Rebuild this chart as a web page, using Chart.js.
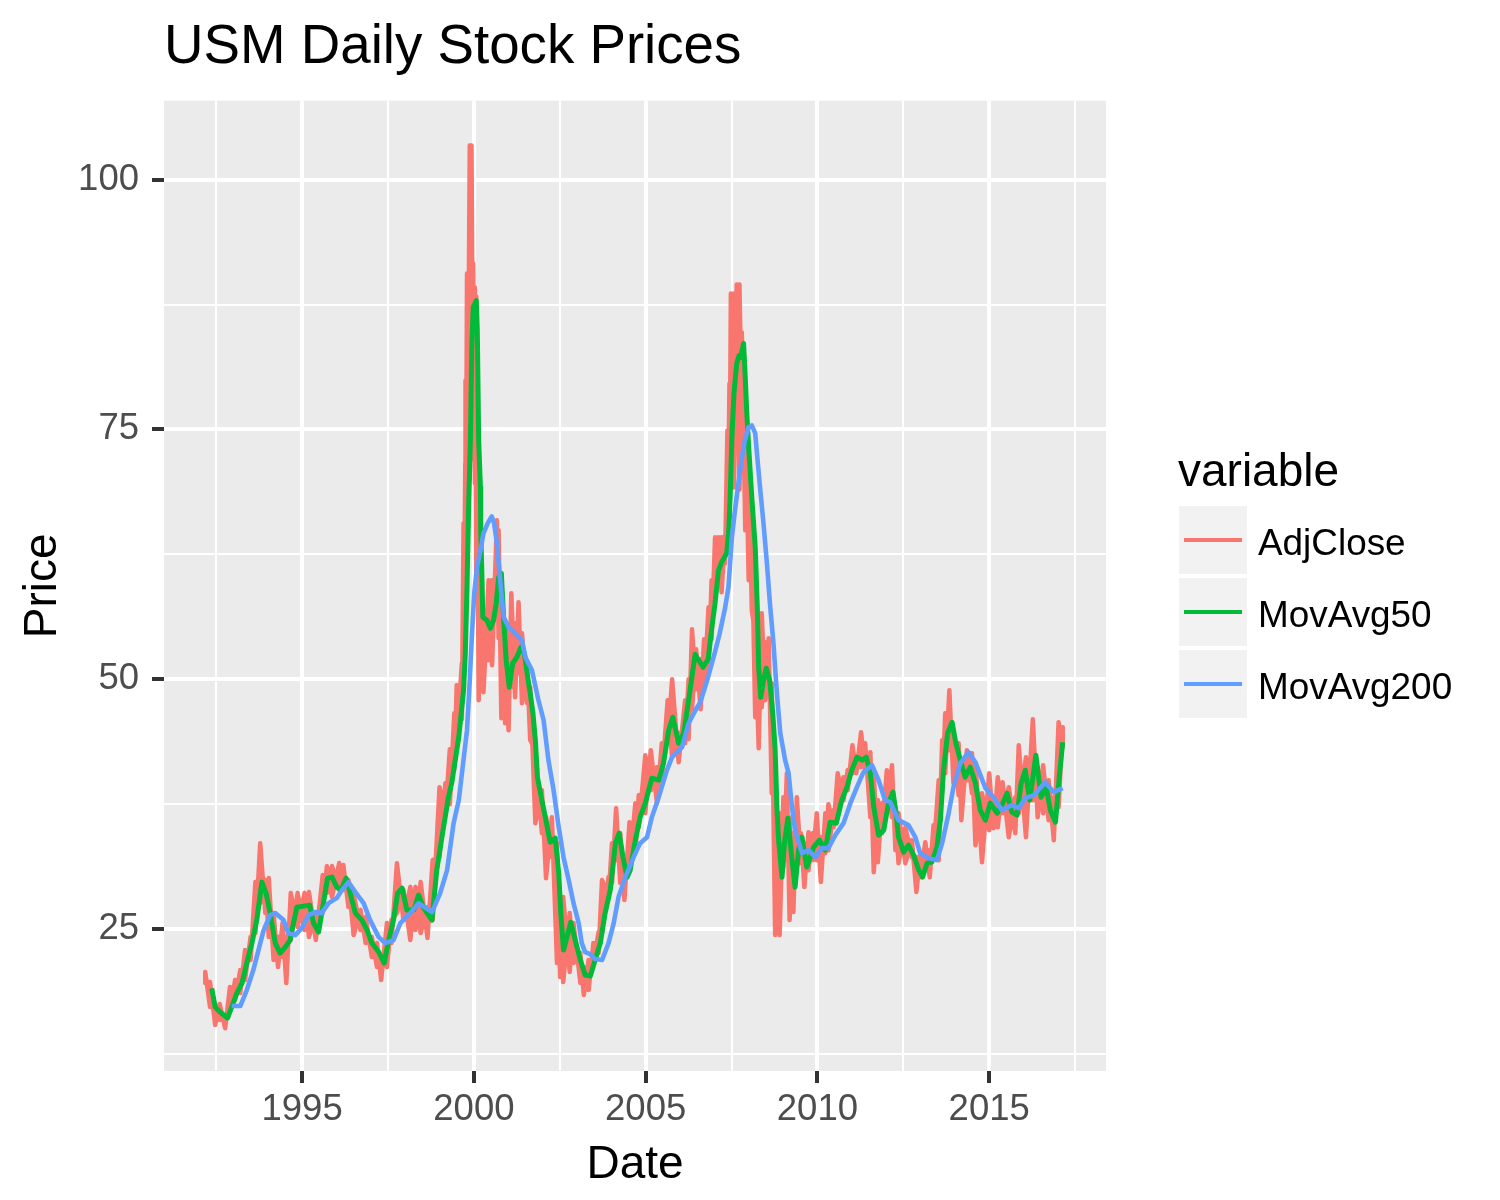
<!DOCTYPE html>
<html>
<head>
<meta charset="utf-8">
<title>USM Daily Stock Prices</title>
<script src="https://cdn.jsdelivr.net/npm/chart.js@4"></script>
<style>
body{margin:0;background:#fff;}
canvas{display:block;}
</style>
</head>
<body>
<canvas id="chart" width="1500" height="1200"></canvas>
<script>
const seriesNames = ["AdjClose","MovAvg50","MovAvg200"];
const seriesColors = ["#F8766D","#00BA38","#619CFF"];

const xTicks = [1992.5,1995,1997.5,2000,2002.5,2005,2007.5,2010,2012.5,2015,2017.5];
const yTicks = [12.5,25,37.5,50,62.5,75,87.5,100];

// AdjClose is read as a daily band: top and bottom of the band at each date
const adjDates = [1992.18,1992.32,1992.47,1992.6,1992.76,1992.9,1993.05,1993.2,1993.34,1993.5,1993.64,1993.78,1993.93,1994.03,1994.17,1994.3,1994.43,1994.54,1994.67,1994.87,1995.07,1995.2,1995.4,1995.6,1995.72,1995.87,1996.08,1996.2,1996.35,1996.5,1996.7,1996.85,1997.03,1997.18,1997.3,1997.47,1997.6,1997.76,1997.95,1998.15,1998.3,1998.45,1998.65,1998.8,1999,1999.17,1999.3,1999.43,1999.5,1999.65,1999.7,1999.75,1999.77,1999.8,1999.88,1999.93,1999.98,2000.03,2000.07,2000.14,2000.23,2000.28,2000.43,2000.53,2000.67,2000.72,2000.8,2000.91,2001.01,2001.09,2001.2,2001.3,2001.4,2001.55,2001.64,2001.79,2001.98,2002.1,2002.27,2002.42,2002.51,2002.6,2002.79,2002.9,2003.1,2003.2,2003.34,2003.48,2003.63,2003.73,2003.92,2004.02,2004.14,2004.26,2004.38,2004.53,2004.7,2004.8,2004.99,2005.15,2005.33,2005.47,2005.64,2005.77,2005.96,2006.15,2006.25,2006.35,2006.47,2006.6,2006.7,2006.83,2006.92,2007.02,2007.12,2007.21,2007.31,2007.38,2007.44,2007.48,2007.57,2007.65,2007.73,2007.8,2007.9,2008,2008.09,2008.19,2008.29,2008.38,2008.48,2008.58,2008.67,2008.77,2008.9,2009.01,2009.11,2009.19,2009.3,2009.4,2009.52,2009.62,2009.74,2009.86,2009.98,2010.1,2010.23,2010.32,2010.47,2010.59,2010.76,2010.88,2011.02,2011.13,2011.27,2011.39,2011.54,2011.64,2011.76,2011.88,2012.02,2012.17,2012.27,2012.36,2012.56,2012.75,2012.88,2013,2013.14,2013.27,2013.38,2013.53,2013.63,2013.72,2013.84,2013.96,2014.11,2014.19,2014.35,2014.5,2014.6,2014.79,2015,2015.13,2015.25,2015.39,2015.57,2015.76,2015.86,2016.07,2016.27,2016.41,2016.57,2016.73,2016.88,2017.02,2017.14];
const adjHigh = [20.7,19.7,17.2,17.5,16.2,19.2,19.9,20.9,22.9,24.2,29.7,33.6,29.9,30.1,26.6,24.2,25.6,24.2,28.6,28.6,28.6,28.7,26.6,30.4,31.3,31.3,31.6,31.4,29.9,28.6,26.9,26.2,24.2,23.6,21.9,25.6,25.9,31.6,28.9,29.2,29.2,29.7,27.2,31.9,39.2,39.6,43,46.6,49.4,51.6,65.6,71.6,79.9,90.6,103.4,103.4,91.6,89.2,88.3,60.6,57.9,54.9,59.9,59.9,65.9,64.9,57.9,55.2,55.2,58.6,55.6,57.7,54.6,51.2,49.2,42.9,38.9,36.2,36.2,33.6,27.9,28.2,26.6,25.6,22.6,21.2,21.9,23.6,24.7,29.9,30.2,33.6,37.1,34.6,31.6,35.7,37.6,38.4,42.4,42.9,41.2,43.6,47.9,50,44.6,47.9,50,55,53,52,54,57.2,59.9,64.2,64.2,64.2,64.4,74.9,79.6,88.6,88.6,89.5,89.5,84.7,76.9,72.9,64.2,54.6,54.6,56.6,53.7,54.1,49.6,39.6,36.6,38.2,40.6,36.2,34.6,38.2,34.6,33.6,34.7,34.6,36.6,34.2,36.6,37.5,36.9,40.6,40.2,40.9,43.4,42.2,44.7,43.6,42.7,40.6,37.9,37.6,40.9,41.4,37.2,36.6,35.2,33.9,32.2,32.6,33.7,32.9,35.4,39.9,43.9,46.6,48.9,44.9,43.6,41.2,42.9,42.6,41.6,38.6,40.6,38.2,40.2,39.7,39.2,38.2,43.4,42.2,46,41.2,41.4,39.9,38.2,45.7,45.2];
const adjLow = [19.6,17.2,15.4,15.9,15.07,16.9,17.9,18.6,19.9,21.9,24.6,27.6,26.6,24.2,21.9,21.2,22.2,19.6,23.9,25.2,24.9,24.2,23.9,26.6,28.6,28.2,28.9,28.9,27.2,24.4,24.9,23.6,22.2,21.2,19.9,21.2,23.6,26.6,25.9,23.9,24.9,24.6,24.1,25.9,32.2,36.5,37.5,41,43.9,46,49.9,56,60,62,70,72,75,69.6,60.6,47.9,51.2,48.7,51.9,51.4,56.6,54.1,46.1,45.6,44.9,49.2,48.2,50.6,47.6,47.6,43.9,35.6,34.6,30.1,32.2,21.6,20.2,19.7,20.7,21.6,19.6,18.4,18.9,21.6,22.6,24.6,28.2,29.6,31.9,29.6,27.9,31.2,32.6,35.2,36.6,38.9,37.6,39.9,43.6,42.2,41.7,43.6,44,47,49,47,49,51,54,58.9,61.6,58.7,61.6,63,66,69.2,69.2,81,69,76.6,64.9,59.9,56.9,46.2,43.1,47.2,47.9,49.6,38.6,24.4,24.4,31.2,31.9,25.9,26.7,31.2,31.6,29.2,30.9,31.9,31.9,29.7,32.6,32.9,35.2,36.6,37.9,38.9,40.6,40.6,41.2,40.9,36.2,30.7,31.7,34.6,36.9,36.2,32.9,31.6,31.6,32.2,28.7,30.2,30.9,30.2,32.6,31.9,38.6,40.6,42.9,39.6,38.4,35.9,39.9,38.6,33.4,31.7,34.9,35.1,35.2,36.6,34.2,34.6,36.6,34.2,37.9,36.2,36.6,35.9,33.9,37.2,43.2];

const ma50Dates = [1992.37,1992.47,1992.61,1992.83,1992.95,1993.1,1993.25,1993.39,1993.54,1993.68,1993.83,1993.95,1994.07,1994.22,1994.36,1994.51,1994.65,1994.75,1994.85,1995.04,1995.22,1995.33,1995.48,1995.62,1995.74,1995.87,1996.01,1996.13,1996.28,1996.4,1996.55,1996.74,1996.89,1997.03,1997.23,1997.39,1997.52,1997.66,1997.78,1997.91,1998.05,1998.25,1998.39,1998.54,1998.78,1998.92,1999.07,1999.26,1999.36,1999.56,1999.7,1999.75,1999.8,1999.85,1999.9,1999.94,1999.98,2000.07,2000.1,2000.14,2000.19,2000.2,2000.23,2000.26,2000.38,2000.48,2000.57,2000.65,2000.72,2000.8,2000.87,2000.94,2001.03,2001.13,2001.25,2001.37,2001.47,2001.55,2001.64,2001.72,2001.79,2001.85,2001.98,2002.08,2002.22,2002.37,2002.47,2002.53,2002.61,2002.71,2002.82,2002.95,2003.1,2003.24,2003.39,2003.53,2003.68,2003.82,2003.97,2004.12,2004.23,2004.34,2004.46,2004.55,2004.7,2004.84,2004.99,2005.18,2005.38,2005.52,2005.67,2005.79,2005.96,2006.11,2006.25,2006.44,2006.67,2006.82,2006.92,2007.02,2007.12,2007.21,2007.36,2007.42,2007.46,2007.51,2007.57,2007.65,2007.72,2007.77,2007.85,2007.89,2007.94,2008.01,2008.09,2008.19,2008.25,2008.29,2008.35,2008.43,2008.51,2008.61,2008.7,2008.77,2008.82,2008.87,2008.97,2009.04,2009.14,2009.24,2009.35,2009.45,2009.55,2009.69,2009.89,2010.06,2010.23,2010.37,2010.55,2010.71,2010.86,2011,2011.15,2011.3,2011.42,2011.54,2011.64,2011.78,2011.93,2012.07,2012.2,2012.29,2012.36,2012.51,2012.65,2012.8,2012.95,2013.06,2013.19,2013.33,2013.48,2013.58,2013.67,2013.79,2013.92,2014.03,2014.16,2014.3,2014.45,2014.6,2014.74,2014.89,2015.03,2015.23,2015.37,2015.52,2015.66,2015.81,2015.93,2016.05,2016.18,2016.36,2016.51,2016.66,2016.78,2016.93,2017.05,2017.14];
const ma50Values = [19.07,17.2,16.7,16.1,17.2,18.6,19.6,21.6,23.6,25.9,29.7,28.6,26.6,23.6,22.6,23.2,23.9,25.6,27.2,27.3,27.4,25.6,24.7,27.6,30.1,30.2,29.2,28.9,30.1,28.6,26.6,25.9,24.9,23.6,22.7,21.6,23.9,25.9,28.6,29.1,26.9,26.9,28.4,27.1,25.9,30.9,34.2,38.2,39.7,44.2,48.9,52.6,59.2,67.6,74.2,83.2,87.2,87.9,84.9,73.9,69.2,64.9,60.9,56.2,55.9,55.1,55.9,57.6,60.2,60.6,55.9,51.9,49.2,51.6,52.2,53.2,52.6,50.6,48.6,46.6,43.9,40.2,37.9,36.2,33.7,34.1,30.6,26.6,22.9,24.2,25.7,23.9,21.9,20.4,20.3,21.9,23.6,26.6,28.9,33.6,34.6,32.2,30.2,30.9,33.9,36.2,37.6,40.1,39.9,41.6,44.9,46.2,43.6,44.6,47.9,52.5,51.2,52,55,57.6,60.9,61.7,62.6,64.9,68.2,74.2,78.6,81.6,82.4,82.2,83.6,80.9,76.9,72.6,68.2,63.2,57.2,51.2,48.2,49.9,51.1,49.9,46.6,42.9,37.2,33.9,30.2,33.6,36.1,32.6,29.2,32.9,34.2,31.2,33.2,33.9,32.9,35.7,35.6,37.9,39.2,40.9,42.2,41.9,42.2,40.6,37.2,34.4,34.9,37.6,38.7,36.6,34.2,32.7,33.4,32.4,30.9,30.2,31.6,31.7,33.2,35.9,40.9,44.6,45.7,43.6,41.9,40.2,41.2,39.6,36.9,35.9,37.6,36.6,37.4,38.6,36.7,36.4,39.6,40.9,37.9,42.4,38.2,39.2,36.9,35.7,40.6,43.7];

const ma200Dates = [1992.95,1993.2,1993.39,1993.58,1993.73,1993.88,1994.07,1994.22,1994.46,1994.6,1994.8,1994.99,1995.19,1995.38,1995.57,1995.77,1996.01,1996.16,1996.35,1996.55,1996.79,1996.98,1997.23,1997.42,1997.66,1997.86,1998.15,1998.39,1998.78,1999.02,1999.22,1999.41,1999.56,1999.8,1999.88,1999.94,2000.01,2000.09,2000.19,2000.28,2000.4,2000.52,2000.59,2000.67,2000.74,2000.8,2000.87,2001.01,2001.2,2001.4,2001.5,2001.69,2001.88,2002.03,2002.17,2002.32,2002.47,2002.61,2002.76,2002.9,2003.05,2003.14,2003.24,2003.39,2003.53,2003.73,2003.92,2004.07,2004.21,2004.41,2004.65,2004.84,2005.04,2005.18,2005.38,2005.62,2005.77,2006.06,2006.25,2006.45,2006.59,2006.8,2007,2007.15,2007.31,2007.41,2007.51,2007.6,2007.7,2007.8,2007.89,2007.99,2008.09,2008.19,2008.25,2008.33,2008.43,2008.53,2008.62,2008.72,2008.82,2008.92,2009.06,2009.16,2009.26,2009.35,2009.55,2009.74,2009.94,2010.13,2010.32,2010.52,2010.76,2010.96,2011.15,2011.34,2011.59,2011.78,2011.97,2012.12,2012.36,2012.65,2012.85,2012.99,2013.24,2013.48,2013.63,2013.82,2013.96,2014.16,2014.4,2014.6,2014.89,2015.13,2015.37,2015.66,2015.86,2016.05,2016.3,2016.63,2016.88,2017.14];
const ma200Values = [17.3,17.3,18.9,20.9,22.9,24.9,26.4,26.6,25.9,24.6,24.4,25.1,26.4,26.7,26.6,27.6,28.1,28.9,29.7,28.7,27.6,25.9,24.2,23.6,23.9,25.6,26.6,27.6,26.7,28.6,30.9,35.6,37.9,44.9,49.9,54.2,58.6,61.2,62.9,64.6,65.6,66.3,65.6,63.6,60.9,58.6,56.2,55.2,54.6,53.9,52.2,50.9,47.9,45.9,41.9,38.9,35.2,32.2,29.9,27.6,25.6,23.6,22.7,22.5,22,21.9,23.6,25.6,28.2,30.2,32.2,33.6,34.2,36.2,38.2,40.9,42.2,43.2,45.6,46.9,47.7,50,52.5,54.5,57.1,59.2,64.2,66.9,69.6,72.2,73.9,75.2,75.4,74.6,72.2,69.2,65.6,61.6,57.5,53.6,48.6,44.6,41.9,40.6,37.2,34.9,32.6,32.9,32.2,33.1,33.1,34.4,35.6,37.6,39.2,40.7,41.4,39.9,37.9,37.7,35.9,35.4,34.2,32.6,32.1,31.9,33.6,36.6,39.2,41.6,42.7,41.7,39.1,38.2,36.9,37.4,37.1,38.1,38.4,39.7,38.7,39.1];

// turn the band into a zigzag so the line fills it like daily prices do.
// second pass runs back over it so the diagonals cross and close the gaps
const adjPoints = [];
adjDates.forEach((d,i)=>{
    adjPoints.push({x:d,y:adjHigh[i]});
    adjPoints.push({x:d,y:adjLow[i]});
});
for(let i=adjDates.length-1;i>=0;i--){
    adjPoints.push({x:adjDates[i],y:adjHigh[i]});
    adjPoints.push({x:adjDates[i],y:adjLow[i]});
}

function toPoints(dates,values){
    return dates.map((d,i)=>({x:d,y:values[i]}));
}

// grey panel behind the grid
const panelPlugin = {
    id:"panel",
    beforeDraw(chart){
        const a=chart.chartArea, c=chart.ctx;
        c.save();
        c.fillStyle="#EBEBEB";
        c.fillRect(a.left,a.top,a.right-a.left,a.bottom-a.top);
        c.restore();
    }
};

// ggplot style legend with grey key boxes
const legendPlugin = {
    id:"ggLegend",
    afterDraw(chart){
        const c=chart.ctx;
        c.save();
        c.textBaseline="alphabetic";
        c.textAlign="left";
        c.fillStyle="#000";
        c.font="46px 'Liberation Sans'";
        c.fillText("variable",1178,486);
        seriesNames.forEach((name,i)=>{
            const top=506+i*72;
            c.fillStyle="#F2F2F2";
            c.fillRect(1179,top,68,68);
            c.strokeStyle=seriesColors[i];
            c.lineWidth=4;
            c.beginPath();
            c.moveTo(1184,top+34);
            c.lineTo(1242,top+34);
            c.stroke();
            c.fillStyle="#000";
            c.font="36.9px 'Liberation Sans'";
            c.fillText(name,1258,top+49);
        });
        c.restore();
    }
};

new Chart(document.getElementById("chart"),{
    type:"line",
    data:{
        datasets:[
            {label:seriesNames[0],data:adjPoints,borderColor:seriesColors[0],borderWidth:4.5,order:3},
            {label:seriesNames[1],data:toPoints(ma50Dates,ma50Values),borderColor:seriesColors[1],borderWidth:5,order:2},
            {label:seriesNames[2],data:toPoints(ma200Dates,ma200Values),borderColor:seriesColors[2],borderWidth:4.6,order:1}
        ]
    },
    options:{
        responsive:false,
        devicePixelRatio:1,
        animation:false,
        layout:{padding:{left:0,top:0,right:394,bottom:0}},
        elements:{point:{radius:0},line:{tension:0,borderJoinStyle:"round"}},
        plugins:{
            legend:{display:false},
            tooltip:{enabled:false},
            title:{
                display:true,
                fullSize:false,
                text:"USM Daily Stock Prices",
                align:"start",
                color:"#000",
                font:{family:"'Liberation Sans'",size:54.7,weight:"normal"},
                padding:{top:15,bottom:20}
            }
        },
        scales:{
            x:{
                type:"linear",
                min:1990.98,
                max:2018.4,
                afterFit(s){s.height=129;},
                afterBuildTicks(s){s.ticks=xTicks.map(v=>({value:v}));},
                border:{display:false},
                grid:{
                    color:"#fff",
                    lineWidth:c=>c.tick && c.tick.value%5===0?4:2,
                    tickColor:c=>c.tick && c.tick.value%5===0?"#333333":"rgba(0,0,0,0)",
                    tickWidth:4,
                    tickLength:12
                },
                ticks:{
                    autoSkip:false,
                    maxRotation:0,
                    padding:5,
                    color:"#4D4D4D",
                    font:{family:"'Liberation Sans'",size:36.5},
                    callback:v=>v%5===0?String(v):""
                },
                title:{
                    display:true,
                    text:"Date",
                    color:"#000",
                    font:{family:"'Liberation Sans'",size:46},
                    padding:{top:0,bottom:7}
                }
            },
            y:{
                type:"linear",
                min:10.8,
                max:107.9,
                afterFit(s){s.width=164;},
                afterBuildTicks(s){s.ticks=yTicks.map(v=>({value:v}));},
                border:{display:false},
                grid:{
                    color:"#fff",
                    lineWidth:c=>c.tick && c.tick.value%25===0?4:2,
                    tickColor:c=>c.tick && c.tick.value%25===0?"#333333":"rgba(0,0,0,0)",
                    tickWidth:4,
                    tickLength:12
                },
                ticks:{
                    autoSkip:false,
                    padding:13,
                    color:"#4D4D4D",
                    font:{family:"'Liberation Sans'",size:36.5},
                    callback:v=>v%25===0?String(v):""
                },
                title:{
                    display:true,
                    text:"Price",
                    color:"#000",
                    font:{family:"'Liberation Sans'",size:46},
                    padding:{top:16,bottom:0}
                }
            }
        }
    },
    plugins:[panelPlugin,legendPlugin]
});
</script>
</body>
</html>
